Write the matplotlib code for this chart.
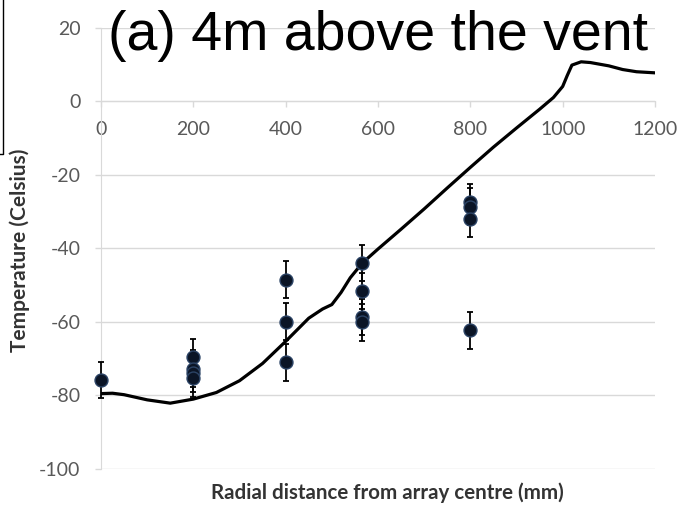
import matplotlib
matplotlib.use("Agg")
import matplotlib.pyplot as plt
from matplotlib.lines import Line2D

plt.rcParams['axes.unicode_minus'] = False

# measured points (thermocouple array)
radial_mm = [0, 200, 200, 200, 200, 400, 400, 400,
             566, 566, 566, 566, 800, 800, 800, 800]
temp_c = [-75.8, -69.6, -72.7, -74.0, -75.3, -48.5, -60.0, -71.0,
          -44.0, -51.6, -58.7, -60.1, -27.4, -28.7, -31.9, -62.3]
temp_err = [5.0] * len(temp_c)

# model curve
model_x = [0, 25, 50, 100, 150, 200, 250, 300, 350, 400, 450, 480, 500,
           520, 540, 566, 600, 650, 700, 750, 800, 850, 900, 950, 980,
           1000, 1010, 1020, 1040, 1060, 1100, 1130, 1160, 1200]
model_y = [-79.5, -79.4, -79.8, -81.2, -82.1, -81.0, -79.2, -76.0, -71.3,
           -65.3, -59.0, -56.5, -55.3, -52.0, -48.0, -44.0, -40.2, -34.8,
           -29.3, -23.6, -18.0, -12.5, -7.3, -2.2, 1.0, 4.0, 7.0, 9.8,
           10.7, 10.5, 9.6, 8.6, 8.0, 7.7]

x_ticks = [0, 200, 400, 600, 800, 1000, 1200]
y_ticks = [-100, -80, -60, -40, -20, 0, 20]

grid_col = '#d9d9d9'
label_col = '#595959'
tick_font = 'Lato'


def plot():
    fig = plt.figure(figsize=(6.88, 5.11), dpi=100)
    ax = fig.add_axes([101 / 688, 1 - 469 / 511, 554 / 688, 441.4 / 511])

    ax.plot(model_x, model_y, color='black', lw=2.3,
            solid_joinstyle='round', solid_capstyle='round', zorder=3)
    ax.errorbar(radial_mm, temp_c, yerr=temp_err, fmt='none',
                ecolor='black', elinewidth=1.3, capsize=2, capthick=1.3,
                zorder=4, clip_on=False)
    ax.plot(radial_mm, temp_c, ls='none', marker='o', ms=9.3,
            mfc='#0b1526', mec='#2c4466', mew=1, zorder=5, clip_on=False)

    ax.set_xlim(0, 1200)
    ax.set_ylim(-100, 20)
    ax.set_xticks(x_ticks)
    ax.set_yticks(y_ticks)
    ax.yaxis.grid(True, color=grid_col, lw=1)
    ax.set_axisbelow(True)

    for s in ['top', 'right']:
        ax.spines[s].set_visible(False)
    ax.spines['bottom'].set_position(('data', 0))
    ax.spines['bottom'].set_color(grid_col)
    ax.spines['left'].set_color(grid_col)
    ax.tick_params(axis='y', length=4.3, width=1, color=grid_col,
                   pad=10.5, labelsize=14, labelcolor=label_col)
    ax.tick_params(axis='x', length=4.3, width=1, color=grid_col,
                   pad=10, labelsize=14, labelcolor=label_col)
    for lab in ax.get_xticklabels() + ax.get_yticklabels():
        lab.set_family(tick_font)

    fig.text(20 / 688, 1 - 250 / 511, 'Temperature (Celsius)', rotation=90,
             ha='center', va='center', fontsize=15, fontweight='bold',
             family=tick_font, color='#333333')
    fig.text(387 / 688, 1 - 493 / 511, 'Radial distance from array centre (mm)',
             ha='center', va='center', fontsize=14.8, fontweight='bold',
             family=tick_font, color='#333333')
    fig.text(108 / 688, 1 - 50 / 511, '(a) 4m above the vent',
             ha='left', va='baseline', fontsize=40,
             family='Liberation Sans', color='black')

    # edge of the neighbouring panel
    fig.add_artist(Line2D([3 / 688, 3 / 688, 0], [1, 1 - 154 / 511, 1 - 154 / 511],
                          transform=fig.transFigure, color='black', lw=1))

    fig.savefig('out.png', dpi=100)


if __name__ == '__main__':
    plot()
